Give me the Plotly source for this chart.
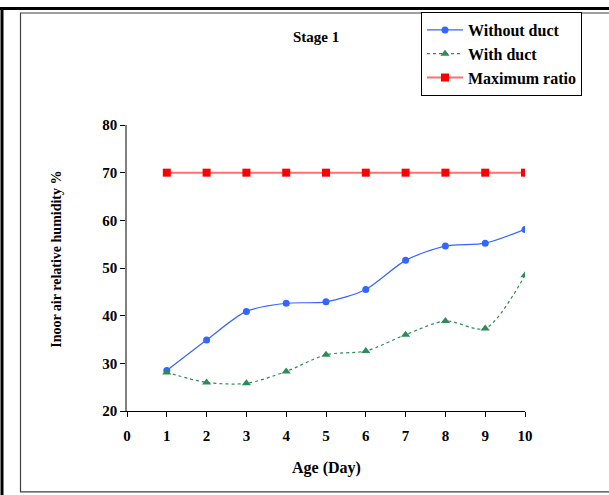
import plotly.graph_objects as go

days = [1, 2, 3, 4, 5, 6, 7, 8, 9, 10]
without_duct = [28.5, 34.9, 40.9, 42.6, 42.9, 45.5, 51.6, 54.6, 55.2, 58.1]
with_duct = [28.1, 26.0, 25.8, 28.3, 31.8, 32.6, 36.0, 38.9, 37.3, 48.5]
maximum_ratio = [70, 70, 70, 70, 70, 70, 70, 70, 70, 70]
x_ticks = [0, 1, 2, 3, 4, 5, 6, 7, 8, 9, 10]
y_ticks = [20, 30, 40, 50, 60, 70, 80]

FONT = "Liberation Serif, Times New Roman, serif"

fig = go.Figure()
fig.add_trace(go.Scatter(
    x=days, y=without_duct, name="Without duct", mode="lines+markers",
    line=dict(color="#3366FF", width=1.2, shape="spline", smoothing=0.8),
    marker=dict(symbol="circle", size=7, color="#3366FF"),
))
fig.add_trace(go.Scatter(
    x=days, y=with_duct, name="With duct", mode="lines+markers",
    line=dict(color="#2E8B57", width=1.2, dash="dot", shape="spline", smoothing=0.8),
    marker=dict(symbol="triangle-up", size=8, color="#2E8B57"),
))
fig.add_trace(go.Scatter(
    x=days, y=maximum_ratio, name="Maximum ratio", mode="lines+markers",
    line=dict(color="#FF6F6F", width=2),
    marker=dict(symbol="square", size=8, color="#FF0000"),
))

W, H = 609, 495
L, R, T, B = 127, 525, 123, 411.5


def px(x):
    return (x - L) / (R - L)


def py(y):
    return (B - y) / (B - T)


fig.update_layout(
    width=W, height=H,
    margin=dict(l=L, r=W - R, t=T, b=H - B),
    paper_bgcolor="white", plot_bgcolor="white",
    font=dict(family=FONT, size=15, color="black", weight="bold"),
    showlegend=True,
    legend=dict(
        x=px(421), y=py(9),
        xanchor="left", yanchor="top",
        bordercolor="black", borderwidth=1, bgcolor="white",
        font=dict(family=FONT, size=16, color="black", weight="bold"),
        itemwidth=36,
    ),
    xaxis=dict(
        range=[0, 10], tickmode="array", tickvals=x_ticks,
        showgrid=False, zeroline=False, showline=True, linecolor="black", linewidth=1,
        ticks="outside", ticklen=5, tickcolor="black", ticklabelstandoff=6,
        tickfont=dict(family=FONT, size=15, weight="bold"),
    ),
    yaxis=dict(
        range=[20, 80], tickmode="array", tickvals=y_ticks,
        showgrid=False, zeroline=False, showline=True, linecolor="#808080", linewidth=1.5,
        ticks="outside", ticklen=5, tickcolor="black",
        tickfont=dict(family=FONT, size=15, weight="bold"),
    ),
    annotations=[
        dict(text="Stage 1", xref="paper", yref="paper",
             x=px(316), y=py(34), xanchor="center", yanchor="middle", showarrow=False,
             font=dict(family=FONT, size=15, weight="bold")),
        dict(text="Age (Day)", xref="paper", yref="paper",
             x=px(326), y=py(469), xanchor="center", yanchor="middle", showarrow=False,
             font=dict(family=FONT, size=16, weight="bold")),
        dict(text="Inoor air relative humidity %", xref="paper", yref="paper",
             x=px(57), y=py(259), xanchor="center", yanchor="middle",
             textangle=-90, showarrow=False,
             font=dict(family=FONT, size=14, weight="bold")),
    ],
    shapes=[
        dict(type="line", xref="paper", yref="paper",
             x0=px(0), x1=px(W + 5), y0=py(5.5), y1=py(5.5),
             line=dict(color="black", width=3)),
        dict(type="line", xref="paper", yref="paper",
             x0=px(2), x1=px(2), y0=py(4), y1=py(H + 5),
             line=dict(color="black", width=3)),
        dict(type="rect", xref="paper", yref="paper",
             x0=px(20.5), x1=px(W + 5), y0=py(10), y1=py(493),
             line=dict(color="#404040", width=1.2)),
    ],
)

fig.write_html("out.html", config={"displayModeBar": False},
               post_script="document.body.style.margin='0px';")
